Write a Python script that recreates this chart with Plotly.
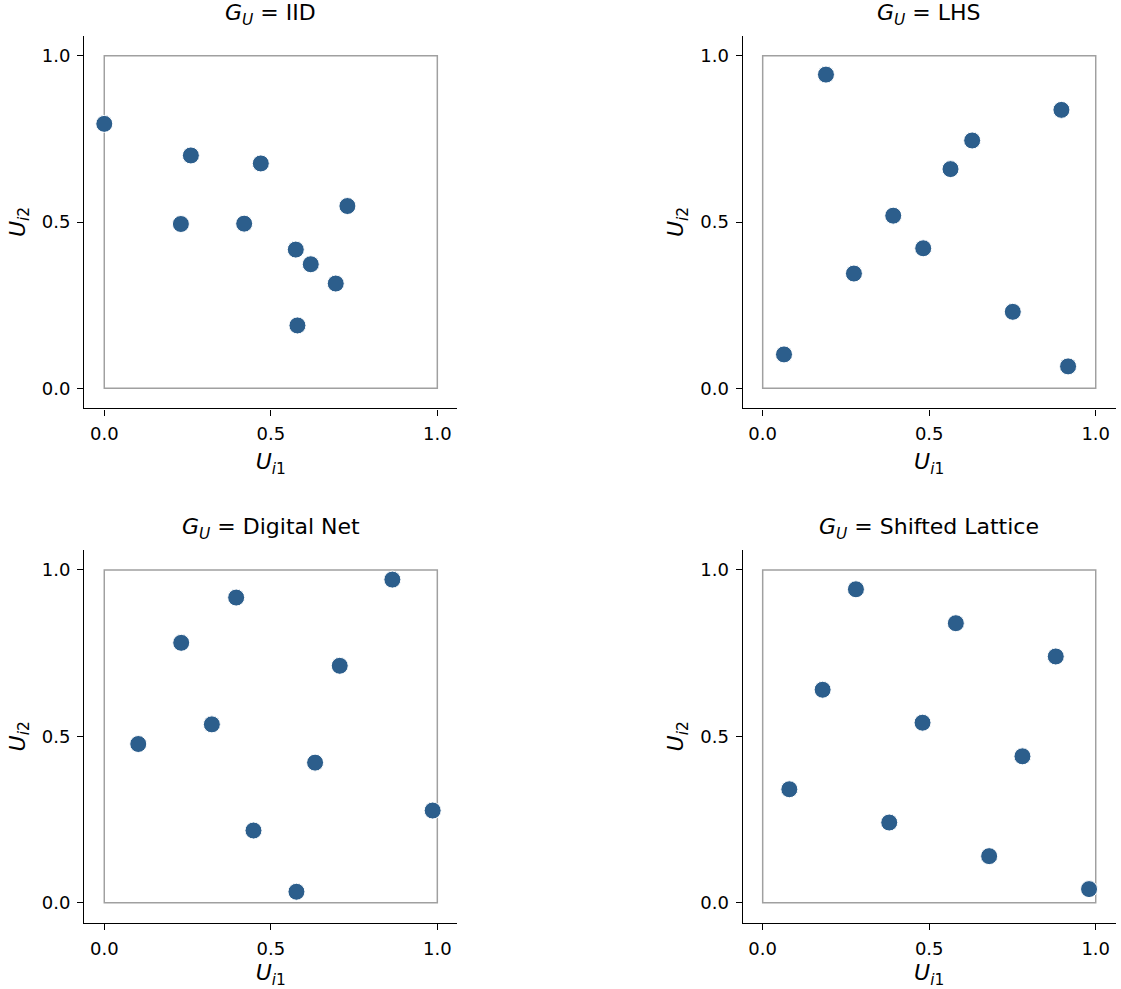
import plotly.graph_objects as go

# ---- data ----
titles = ["IID", "LHS", "Digital Net", "Shifted Lattice"]

iid_x = [0.00, 0.26, 0.47, 0.23, 0.42, 0.73, 0.575, 0.62, 0.695, 0.58]
iid_y = [0.795, 0.70, 0.676, 0.494, 0.495, 0.548, 0.417, 0.373, 0.315, 0.189]

lhs_x = [0.19, 0.897, 0.629, 0.564, 0.392, 0.482, 0.274, 0.751, 0.064, 0.917]
lhs_y = [0.943, 0.837, 0.745, 0.659, 0.519, 0.421, 0.345, 0.230, 0.102, 0.066]

dn_x = [0.865, 0.396, 0.231, 0.707, 0.323, 0.102, 0.633, 0.986, 0.448, 0.577]
dn_y = [0.971, 0.917, 0.781, 0.712, 0.536, 0.477, 0.421, 0.277, 0.217, 0.033]

sl_x = [0.08, 0.18, 0.28, 0.38, 0.48, 0.58, 0.68, 0.78, 0.88, 0.98]
sl_y = [0.341, 0.640, 0.942, 0.241, 0.541, 0.840, 0.140, 0.440, 0.740, 0.041]

series = [(iid_x, iid_y), (lhs_x, lhs_y), (dn_x, dn_y), (sl_x, sl_y)]
tick_vals = [0, 0.5, 1.0]
tick_text = ["0.0", "0.5", "1.0"]

# ---- layout geometry ----
W, H = 1121, 989
xdoms = [[84.3 / W, 457.3 / W], [742.7 / W, 1115.7 / W]]
ydoms = [[1 - 408.3 / H, 1 - 35.7 / H], [1 - 922.7 / H, 1 - 550.0 / H]]

FONT = "DejaVu Sans"
COLOR = "#2c5e8c"

fig = go.Figure()
layout = dict(
    width=W, height=H,
    margin=dict(l=0, r=0, t=0, b=0),
    paper_bgcolor="white", plot_bgcolor="white",
    showlegend=False,
    font=dict(family=FONT, color="black", size=18),
    shapes=[], annotations=[],
)

for i, (xs, ys) in enumerate(series):
    r, c = divmod(i, 2)
    n = "" if i == 0 else str(i + 1)
    xa, ya = "x" + n, "y" + n
    fig.add_trace(go.Scatter(
        x=xs, y=ys, mode="markers", xaxis=xa, yaxis=ya,
        marker=dict(size=17, color=COLOR, line=dict(color="white", width=1)),
        hoverinfo="skip",
    ))
    axis_common = dict(
        range=[-0.06, 1.06], tickmode="array", tickvals=tick_vals, ticktext=tick_text,
        showgrid=False, zeroline=False, showline=True, linecolor="black", linewidth=1.4,
        ticks="outside", ticklen=6, tickwidth=1.4, tickcolor="black",
        tickfont=dict(family=FONT, size=18, color="black"), mirror=False,
        ticklabelstandoff=3,
    )
    layout["xaxis" + n] = dict(axis_common, domain=xdoms[c], anchor=ya,
                               title=dict(text="<i>U</i><sub><i>i</i>1</sub>",
                                          font=dict(family=FONT, size=22), standoff=10))
    layout["yaxis" + n] = dict(axis_common, domain=ydoms[r], anchor=xa,
                               title=dict(text="<i>U</i><sub><i>i</i>2</sub>",
                                          font=dict(family=FONT, size=22), standoff=10))
    layout["shapes"].append(dict(type="rect", xref=xa, yref=ya, x0=0, y0=0, x1=1, y1=1,
                                 line=dict(color="#a0a0a0", width=1.5), layer="below"))
    layout["annotations"].append(dict(
        text="<i>G</i><sub><i>U</i></sub> = " + titles[i],
        xref=xa, x=0.5, yref="paper", y=ydoms[r][1], yshift=5,
        xanchor="center", yanchor="bottom", showarrow=False,
        font=dict(family=FONT, size=22, color="black"),
    ))

fig.update_layout(**layout)
fig.write_html("out.html")
